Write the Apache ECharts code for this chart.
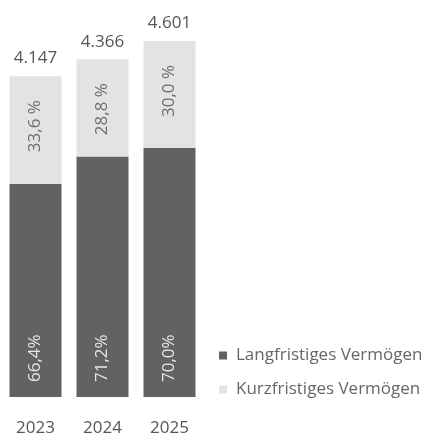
<!DOCTYPE html>
<html>
<head>
<meta charset="utf-8">
<script src="https://cdn.jsdelivr.net/npm/echarts@6/dist/echarts.min.js"></script>
<style>
    html, body { margin: 0; padding: 0; background: #fff; }
    #chart { width: 435px; height: 438px; }
</style>
</head>
<body>
<div id="chart"></div>
<script>
    // Jahre und Werte (Mio. €)
    var years = ['2023', '2024', '2025'];
    var totals = [4147, 4366, 4601];
    var langPct = [66.4, 71.2, 70.0];
    var kurzPct = [33.6, 28.8, 30.0];

    function fmtNum(v) {
        return String(v).replace(/\B(?=(\d{3})+(?!\d))/g, '.');
    }
    function fmtPct(v) {
        return v.toFixed(1).replace('.', ',');
    }

    var langVals = totals.map(function (t, i) { return Math.round(t * langPct[i] / 100); });
    var kurzVals = totals.map(function (t, i) { return t - langVals[i]; });

    var font = '"Open Sans", sans-serif';
    var myChart = echarts.init(document.getElementById('chart'));

    var option = {
        animation: false,
        textStyle: { fontFamily: font },
        grid: { left: 2, width: 201, top: 41, bottom: 41 },
        legend: {
            data: ['Langfristiges Vermögen', 'Kurzfristiges Vermögen'],
            orient: 'vertical',
            left: 214,
            top: 342,
            itemWidth: 8,
            itemHeight: 8,
            itemGap: 17,
            icon: 'rect',
            textStyle: { color: '#666', fontSize: 17, fontFamily: font, padding: [0, 0, 0, 4] }
        },
        xAxis: {
            type: 'category',
            data: years,
            axisLine: { show: false },
            axisTick: { show: false },
            axisLabel: { color: '#555', fontSize: 17, margin: 23, fontFamily: font }
        },
        yAxis: {
            type: 'value',
            min: 0,
            max: 4601,
            show: false,
            splitLine: { show: false }
        },
        series: [
            {
                name: 'Langfristiges Vermögen',
                type: 'bar',
                stack: 'a',
                barWidth: 52,
                itemStyle: { color: '#626262' },
                label: {
                    show: true,
                    position: 'insideBottom',
                    rotate: 90,
                    align: 'left',
                    verticalAlign: 'middle',
                    distance: 15,
                    color: '#e6e6e6',
                    fontSize: 17,
                    fontFamily: font,
                    formatter: function (p) { return fmtPct(langPct[p.dataIndex]) + '%'; }
                },
                data: langVals
            },
            {
                name: 'Kurzfristiges Vermögen',
                type: 'bar',
                stack: 'a',
                barWidth: 52,
                itemStyle: { color: '#e3e3e3' },
                label: {
                    show: true,
                    position: 'insideTop',
                    rotate: 90,
                    align: 'right',
                    verticalAlign: 'middle',
                    distance: 24,
                    color: '#6e6e6e',
                    fontSize: 17,
                    fontFamily: font,
                    formatter: function (p) { return fmtPct(kurzPct[p.dataIndex]) + ' %'; }
                },
                data: kurzVals
            },
            {
                name: 'Summe',
                type: 'bar',
                stack: 'a',
                barWidth: 52,
                itemStyle: { color: 'transparent' },
                label: {
                    show: true,
                    position: 'top',
                    distance: 9,
                    color: '#555',
                    fontSize: 17,
                    fontFamily: font,
                    formatter: function (p) { return fmtNum(totals[p.dataIndex]); }
                },
                data: [0, 0, 0]
            }
        ]
    };
    myChart.setOption(option);
</script>
</body>
</html>
